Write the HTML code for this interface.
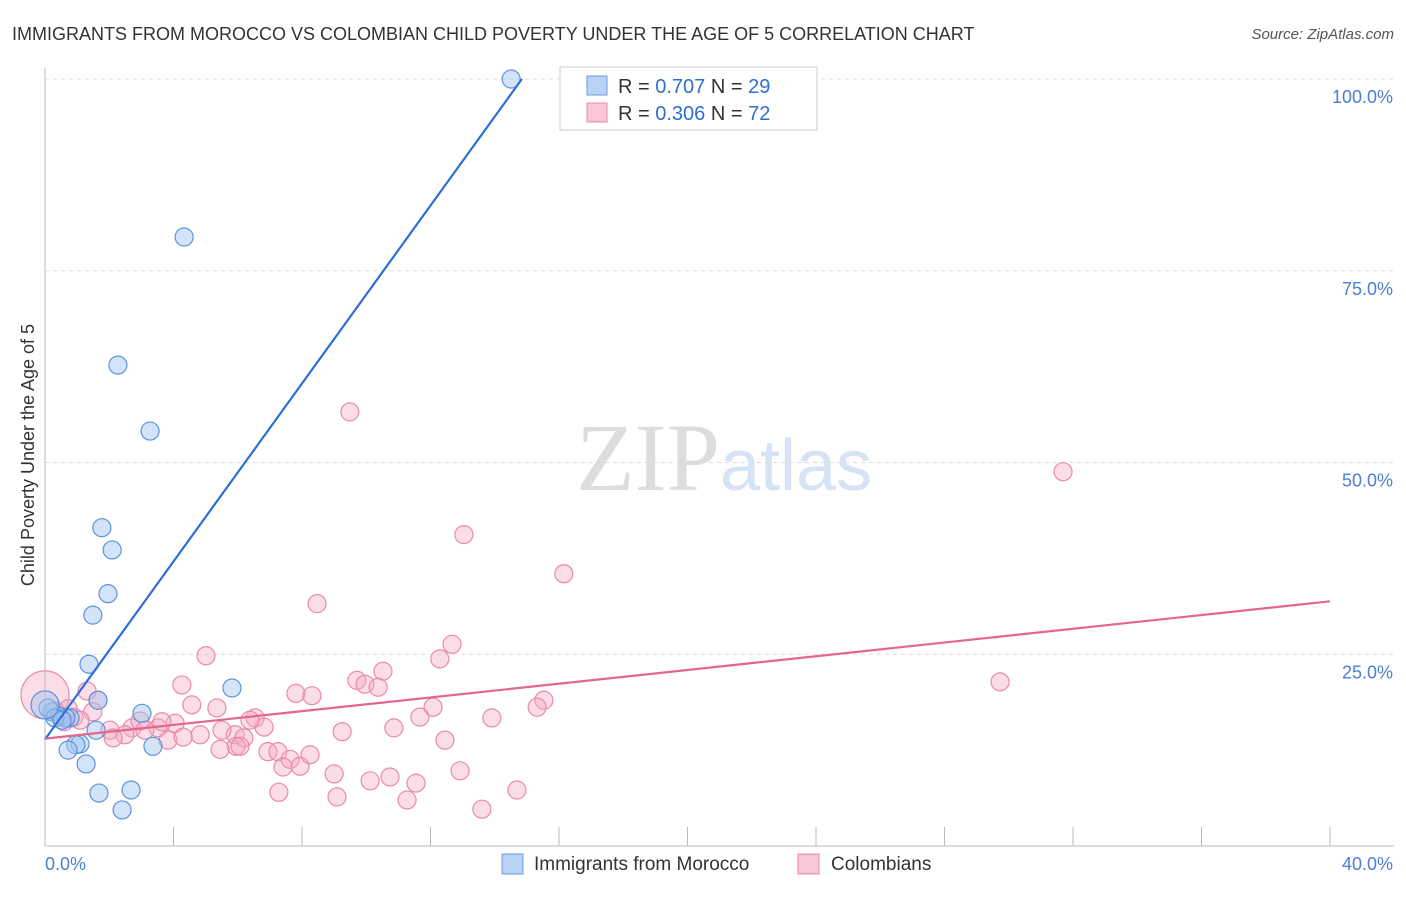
<!DOCTYPE html>
<html><head><meta charset="utf-8"><style>
body{margin:0;background:#fff;font-family:"Liberation Sans",sans-serif;}
</style></head><body>
<svg width="1406" height="892" xmlns="http://www.w3.org/2000/svg" font-family="Liberation Sans, sans-serif">
<text x="12" y="40" font-size="18" fill="#333">IMMIGRANTS FROM MOROCCO VS COLOMBIAN CHILD POVERTY UNDER THE AGE OF 5 CORRELATION CHART</text>
<text x="1394" y="39" font-size="15" fill="#555" font-style="italic" text-anchor="end">Source: ZipAtlas.com</text>
<text x="720" y="490" font-size="96" fill="#ddd" font-family="Liberation Serif, serif" text-anchor="end">ZIP</text>
<text x="720" y="490" font-size="72" fill="#d6e3f5">atlas</text>
<g id="grid"></g>
<g id="axes"></g>
<g id="pts"></g>
<g id="trends"></g>
<text transform="translate(34,455) rotate(-90)" font-size="18" fill="#333" text-anchor="middle">Child Poverty Under the Age of 5</text>
<g>
<rect x="560" y="67" width="257" height="63" fill="#fff" stroke="#ccc"/>
<rect x="587" y="76" width="20" height="19" fill="#b8d3f5" stroke="#6a9ee0"/>
<rect x="587" y="103" width="20" height="19" fill="#f9c6d5" stroke="#e88aa8"/>
<text x="618" y="93" font-size="20" fill="#333">R = <tspan fill="#2f6fd0">0.707</tspan>   N = <tspan fill="#2f6fd0">29</tspan></text>
<text x="618" y="120" font-size="20" fill="#333">R = <tspan fill="#2f6fd0">0.306</tspan>   N = <tspan fill="#2f6fd0">72</tspan></text>
</g>
<g>
<rect x="502" y="854" width="21" height="20" fill="#b8d3f5" stroke="#6a9ee0"/>
<text x="534" y="870" font-size="19" fill="#333">Immigrants from Morocco</text>
<rect x="798" y="854" width="21" height="20" fill="#f9c6d5" stroke="#e88aa8"/>
<text x="831" y="870" font-size="19" fill="#333">Colombians</text>
</g>
</svg>
<script>
const yTicks=[25,50,75,100];
const yTickLabels=["25.0%","50.0%","75.0%","100.0%"];
const xTickLabels=["0.0%","40.0%"];
const blueX=[14.51,4.33,2.27,3.27,1.77,2.09,1.96,1.49,1.37,5.82,3.02,1.65,0.22,0.47,0.09,0.78,1.59,1.09,0.96,0.72,3.36,1.28,1.68,2.68,2.40,0.65,0.31,0.53,0];
const blueY=[100,79.4,62.7,54.1,41.5,38.6,32.9,30.1,23.7,20.6,17.3,19.0,17.5,16.9,18.0,16.7,15.1,13.3,13.2,12.5,13.0,10.7,6.9,7.3,4.7,16.7,16.7,16.4,18.4];
const pinkX=[9.49,31.69,13.04,16.15,8.47,12.67,5.01,12.29,10.52,9.71,9.96,10.37,4.26,7.81,8.31,1.31,1.65,4.57,5.35,12.08,15.53,15.32,29.73,11.67,13.91,1.49,0.90,1.09,0.59,2.02,2.71,2.96,3.52,4.05,2.49,3.11,3.64,2.12,3.83,4.83,5.92,5.51,6.19,6.54,6.82,5.95,5.45,6.94,7.25,7.63,7.41,7.94,8.25,9.25,10.86,12.45,9.00,10.74,10.12,11.55,12.92,7.28,9.09,11.27,13.60,14.69,6.38,0,0.31,0.72,4.30,6.07];
const pinkY=[56.6,48.8,40.6,35.5,31.6,26.3,24.8,24.4,22.8,21.6,21.1,20.7,21.0,19.9,19.6,20.2,19.0,18.4,18.0,18.1,19.0,18.1,21.4,16.8,16.7,17.5,16.8,16.4,16.2,15.1,15.4,16.3,15.4,16.0,14.5,15.1,16.2,14.1,13.8,14.5,14.5,15.1,14.1,16.7,15.5,13.0,12.6,12.3,12.3,11.3,10.3,10.4,11.9,14.9,15.4,13.8,9.4,9.0,8.5,8.2,9.8,7.0,6.4,6.0,4.8,7.3,16.4,19.7,17.6,17.9,14.2,13.0];
const blueTrend=[13.9,5.8];   // intercept, slope (per % of x)
const pinkTrend=[14.0,0.4475];
const X0=45,X1=1330,Y0=846,Y100=79;
const sx=v=>X0+(X1-X0)*v/40, sy=v=>Y0-(Y0-Y100)*v/100;
const NS="http://www.w3.org/2000/svg";
function mk(p,t,a){const e=document.createElementNS(NS,t);for(const k in a)e.setAttribute(k,a[k]);p.appendChild(e);return e;}
const grid=document.getElementById('grid'),axes=document.getElementById('axes'),pts=document.getElementById('pts'),tr=document.getElementById('trends');
yTicks.forEach((t,i)=>{
 const l=mk(grid,'line',{x1:X0,x2:1394,y1:sy(t),y2:sy(t),stroke:'#ddd','stroke-dasharray':'4,4'});
 
 
 const tx=mk(axes,'text',{x:1393,y:sy(t)+24,'font-size':18,fill:'#4a7fd4','text-anchor':'end'});tx.textContent=yTickLabels[i];
 
 
});
mk(axes,'line',{x1:X0,x2:X0,y1:68,y2:Y0,stroke:'#bbb'});
mk(axes,'line',{x1:X0,x2:1394,y1:Y0,y2:Y0,stroke:'#bbb'});
for(let i=1;i<=10;i++){const x=sx(i*4);mk(axes,'line',{x1:x,x2:x,y1:827,y2:Y0,stroke:'#bbb'});}
[[0,'start',45],[40,'end',1393]].forEach((d,i)=>{const t=mk(axes,'text',{x:d[2],y:870,'font-size':18,fill:'#4a7fd4','text-anchor':d[1]});t.textContent=xTickLabels[i];
 
 });
pinkX.forEach((x,i)=>{const c=mk(pts,'circle',{cx:sx(x),cy:sy(pinkY[i]),r:i==67?24:9,fill:'rgba(246,170,195,0.4)',stroke:'#e98aa9','stroke-width':1.2});
 
 });
blueX.forEach((x,i)=>{const c=mk(pts,'circle',{cx:sx(x),cy:sy(blueY[i]),r:i==28?14:9,fill:'rgba(160,196,240,0.45)',stroke:'#5b93dd','stroke-width':1.2});
 
 });
const bx1=(100-blueTrend[0])/blueTrend[1];
const bl=mk(tr,'line',{x1:sx(0),y1:sy(blueTrend[0]),x2:sx(bx1),y2:sy(100),stroke:'#2c6fd6','stroke-width':2.2});


const pl=mk(tr,'line',{x1:sx(0),y1:sy(pinkTrend[0]),x2:sx(40),y2:sy(pinkTrend[0]+40*pinkTrend[1]),stroke:'#e4668f','stroke-width':2.2});


</script>
</body></html>
